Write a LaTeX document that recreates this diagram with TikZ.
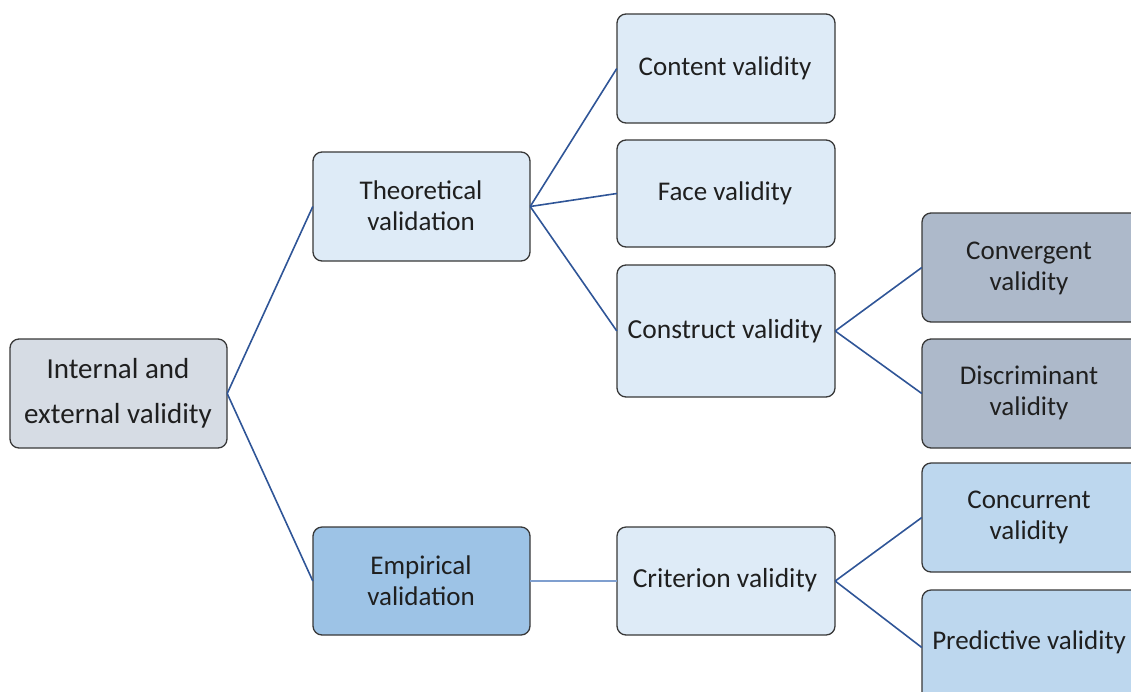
\documentclass[tikz,border=0pt]{standalone}
\usepackage{fontspec}
\setmainfont{Carlito}
\begin{document}
\begin{tikzpicture}[x=1pt,y=-1pt]
\definecolor{rootfill}{HTML}{D6DCE4}
\definecolor{lightfill}{HTML}{DEEBF7}
\definecolor{midfill}{HTML}{9DC3E6}
\definecolor{greyfill}{HTML}{ADB9CA}
\definecolor{palefill}{HTML}{BDD7EE}
\definecolor{linkblue}{HTML}{2F5597}
\definecolor{softblue}{HTML}{7F9FCF}
\tikzset{
  box/.style={draw=black!78, line width=1.3pt, rounded corners=9pt},
  label/.style={align=center, text=black!88, inner sep=0pt,
    font=\fontsize{27}{31}\selectfont},
  biglabel/.style={label, font=\fontsize{27.5}{31}\selectfont},
  rootlabel/.style={label, font=\fontsize{29}{45}\selectfont},
  link/.style={draw=linkblue, line width=1.6pt},
  softlink/.style={draw=softblue, line width=1.6pt}}
\useasboundingbox (0,0) rectangle (1131,691);
\clip (0,0) rectangle (1131,691);
% a filled rounded box given by two corners, plus an empty node spanning it
\newcommand{\boxat}[6]{%
  \draw[box, fill=#6] (#2,#3) rectangle (#4,#5);
  \node[inner sep=0pt, minimum width={#4-#2}, minimum height={#5-#3}]
    (#1) at ({(#2+#4)/2},{(#3+#5)/2}) {};
}
\boxat{root}{10}{339}{227}{448}{rootfill}
\boxat{theo}{313}{152}{530}{261}{lightfill}
\boxat{emp}{313}{527}{530}{635}{midfill}
\boxat{cont}{617}{14}{835}{123}{lightfill}
\boxat{face}{617}{140}{835}{247}{lightfill}
\boxat{cons}{617}{265}{835}{397}{lightfill}
\boxat{crit}{617}{527}{835}{635}{lightfill}
\boxat{conv}{922}{213}{1145}{322}{greyfill}
\boxat{disc}{922}{339}{1145}{448}{greyfill}
\boxat{conc}{922}{463}{1145}{572}{palefill}
\boxat{pred}{922}{590}{1145}{705}{palefill}
% labels
\node[rootlabel] (rootT) at (118,393) {Internal and\\external validity};
\node[label] (theoT) at (421,206) {Theoretical\\validation};
\node[label] (empT) at (421,581) {Empirical\\validation};
\node[label] (contT) at (725,68) {Content validity};
\node[label] (faceT) at (725,193) {Face validity};
\node[biglabel] (consT) at (725,331) {Construct validity};
\node[biglabel] (critT) at (725,580) {Criterion validity};
\node[label] (convT) at (1029,268) {Convergent\\validity};
\node[label] (discT) at (1029,393) {Discriminant\\validity};
\node[label] (concT) at (1029,517) {Concurrent\\validity};
\node[label] (predT) at (1029,642) {Predictive validity};
% connectors
\draw[link] (root.east) -- (theo.west);
\draw[link] (root.east) -- (emp.west);
\draw[link] (theo.east) -- (cont.west);
\draw[link] (theo.east) -- (face.west);
\draw[link] (theo.east) -- (cons.west);
\draw[link] (cons.east) -- (conv.west);
\draw[link] (cons.east) -- (disc.west);
\draw[softlink] (emp.east) -- (crit.west);
\draw[link] (crit.east) -- (conc.west);
\draw[link] (crit.east) -- (pred.west);
\end{tikzpicture}
\end{document}
